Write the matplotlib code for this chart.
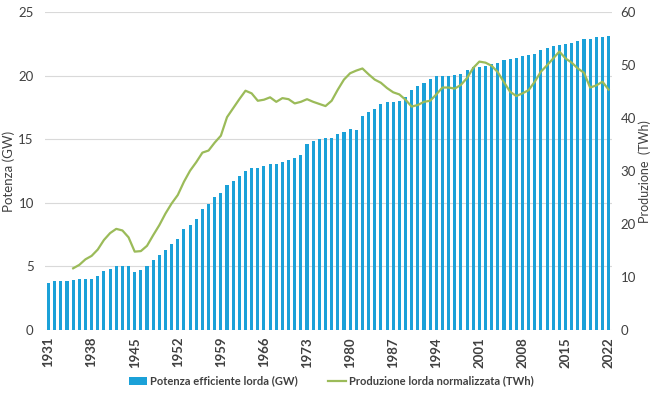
import numpy as np
import matplotlib
matplotlib.use("Agg")
import matplotlib.pyplot as plt

# --- DATA ---
years = np.arange(1931, 2023)

potenza_gw = [
    3.73, 3.86, 3.88, 3.88, 3.96, 3.99, 4.04, 4.04, 4.25, 4.65,   # 1931-1940
    4.78, 5.01, 5.01, 5.01, 4.57, 4.70, 5.07, 5.54, 5.93, 6.30,   # 1941-1950
    6.75, 7.17, 7.93, 8.27, 8.74, 9.50, 9.95, 10.45, 10.79, 11.44,  # 1951-1960
    11.71, 12.13, 12.52, 12.73, 12.76, 12.94, 13.04, 13.10, 13.20, 13.39,  # 1961-1970
    13.54, 13.78, 14.62, 14.88, 15.04, 15.15, 15.15, 15.46, 15.62, 15.83,  # 1971-1980
    15.78, 16.88, 17.14, 17.37, 17.82, 17.98, 17.98, 18.03, 18.34, 18.92,  # 1981-1990
    19.18, 19.47, 19.78, 19.97, 20.02, 20.02, 20.07, 20.18, 20.49, 20.70,  # 1991-2000
    20.70, 20.81, 20.97, 21.02, 21.23, 21.36, 21.41, 21.54, 21.62, 21.75,  # 2001-2010
    22.01, 22.19, 22.37, 22.43, 22.48, 22.59, 22.75, 22.88, 22.90, 23.06,  # 2011-2020
    23.06, 23.17,                                                     # 2021-2022
]

# production starts in 1935
produzione_twh = [
    np.nan, np.nan, np.nan, np.nan,                                   # 1931-1934
    11.65, 12.3, 13.35, 14.0, 15.2, 17.0,                             # 1935-1940
    18.3, 19.1, 18.8, 17.5, 14.8, 14.9, 15.9, 17.9, 19.8, 22.0,       # 1941-1950
    23.9, 25.5, 28.0, 30.1, 31.7, 33.5, 33.9, 35.4, 36.7, 40.2,       # 1951-1960
    41.9, 43.6, 45.2, 44.7, 43.3, 43.5, 43.95, 43.1, 43.8, 43.6,      # 1961-1970
    42.8, 43.1, 43.6, 43.1, 42.7, 42.3, 43.3, 45.4, 47.3, 48.5,       # 1971-1980
    49.0, 49.4, 48.3, 47.3, 46.7, 45.7, 44.9, 44.5, 43.5, 42.2,       # 1981-1990
    42.5, 43.1, 43.3, 44.5, 45.8, 45.8, 45.6, 46.3, 47.6, 49.5,       # 1991-2000
    50.7, 50.5, 49.9, 48.7, 46.8, 45.0, 44.2, 44.7, 45.3, 46.9,       # 2001-2010
    48.8, 50.0, 51.3, 52.6, 51.3, 50.5, 49.4, 48.6, 45.8, 46.2,       # 2011-2020
    46.9, 45.4,                                                       # 2021-2022
]

tick_years = list(range(1931, 2023, 7))

# --- STYLE ---
BAR_COLOR = "#1BA1D8"
LINE_COLOR = "#9BBB59"
TEXT_COLOR = "#404040"
GRID_COLOR = "#D9D9D9"

plt.rcParams["font.family"] = ["Lato", "DejaVu Sans"]

fig = plt.figure(figsize=(6.5, 3.99), dpi=100)
ax = fig.add_axes([0.069, 0.173, 0.873, 0.796])
ax2 = ax.twinx()

ax.bar(years, potenza_gw, width=0.5, color=BAR_COLOR,
       label="Potenza efficiente lorda (GW)", zorder=2)
ax2.plot(years, produzione_twh, color=LINE_COLOR, linewidth=1.6,
         label="Produzione lorda normalizzata (TWh)", zorder=3)

ax.set_xlim(years[0] - 0.6, years[-1] + 0.6)
ax.set_ylim(0, 25)
ax2.set_ylim(0, 60)
ax.set_yticks(range(0, 26, 5))
ax2.set_yticks(range(0, 61, 10))
ax.set_xticks(tick_years)
ax.set_xticklabels([str(y) for y in tick_years], rotation=90,
                   fontsize=8.5, fontweight="bold", color=TEXT_COLOR)

ax.yaxis.grid(True, color=GRID_COLOR, linewidth=0.8, zorder=0)
ax.set_axisbelow(True)

for a in (ax, ax2):
    for s in a.spines.values():
        s.set_visible(False)
    a.tick_params(length=0, colors=TEXT_COLOR, labelsize=9.5)
ax.tick_params(axis="y", pad=8)
ax.tick_params(axis="x", pad=5)
ax2.tick_params(axis="y", pad=6)

ax.set_ylabel("Potenza (GW)", fontsize=9.5, color=TEXT_COLOR)
ax.yaxis.set_label_coords(-0.053, 0.5)
ax2.set_ylabel("Produzione  (TWh)", fontsize=9, color=TEXT_COLOR, rotation=90)
ax2.yaxis.set_label_coords(1.046, 0.5)

# line drawn above the bars
ax.set_zorder(1)
ax2.set_zorder(2)
ax.patch.set_visible(False)

h1, l1 = ax.get_legend_handles_labels()
h2, l2 = ax2.get_legend_handles_labels()
leg = fig.legend(h1 + h2, l1 + l2, loc="center", bbox_to_anchor=(0.51, 0.045),
                 ncol=2, frameon=False, fontsize=8, columnspacing=2.7,
                 handlelength=1.6, handletextpad=0.3)
for t in leg.get_texts():
    t.set_fontweight("bold")
    t.set_color(TEXT_COLOR)

fig.savefig("out.png", dpi=100)
